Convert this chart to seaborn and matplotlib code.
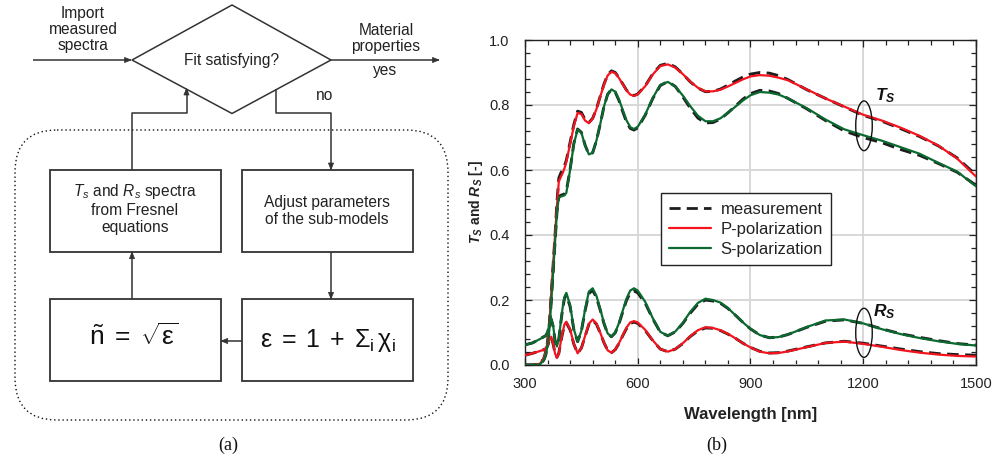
import numpy as np
import pandas as pd
import matplotlib
matplotlib.use("Agg")
import matplotlib.pyplot as plt
import seaborn as sns
from matplotlib.patches import Ellipse, Rectangle, Polygon, FancyBboxPatch
from matplotlib.lines import Line2D
from matplotlib.ticker import MultipleLocator, FormatStrFormatter

# ---------------- data ----------------
wavelength = [300, 320, 340, 350, 355, 360, 365, 370, 375, 380, 385, 390, 395, 400, 405, 410,
              420, 430, 440, 450, 460, 470, 480, 490, 500, 510, 520, 530, 540, 550, 560, 570, 580, 590, 600,
              620, 640, 660, 680, 700, 720, 740, 760, 780, 800, 820, 840, 860, 880, 900,
              925, 950, 975,
              1000, 1050, 1100, 1150, 1200, 1250, 1300, 1350, 1400, 1450, 1500]

ts_p_model = [0.0, 0.0, 0.004, 0.02, 0.04, 0.07, 0.13, 0.22, 0.31, 0.40, 0.49, 0.565, 0.578, 0.59, 0.605, 0.625,
              0.68, 0.735, 0.776, 0.772, 0.752, 0.744, 0.758, 0.787, 0.825, 0.862, 0.891, 0.902, 0.898, 0.883, 0.864, 0.845, 0.832, 0.828, 0.833,
              0.858, 0.894, 0.92, 0.925, 0.915, 0.895, 0.872, 0.853, 0.842, 0.842, 0.847, 0.857, 0.868, 0.879, 0.888,
              0.892, 0.89, 0.884,
              0.876, 0.848, 0.82, 0.795, 0.77, 0.752, 0.73, 0.705, 0.675, 0.635, 0.58]
ts_p_meas = [0.0, 0.0, 0.004, 0.02, 0.04, 0.07, 0.13, 0.22, 0.31, 0.40, 0.50, 0.575, 0.59, 0.60, 0.612, 0.63,
             0.685, 0.74, 0.781, 0.777, 0.755, 0.746, 0.759, 0.788, 0.826, 0.864, 0.893, 0.905, 0.9, 0.884, 0.865, 0.846, 0.833, 0.829, 0.834,
             0.859, 0.896, 0.922, 0.928, 0.917, 0.895, 0.871, 0.852, 0.841, 0.842, 0.849, 0.861, 0.874, 0.886, 0.895,
             0.9, 0.898, 0.89,
             0.878, 0.847, 0.82, 0.794, 0.768, 0.75, 0.727, 0.703, 0.674, 0.637, 0.585]
ts_s_model = [0.0, 0.0, 0.002, 0.015, 0.03, 0.06, 0.11, 0.2, 0.29, 0.38, 0.47, 0.515, 0.518, 0.52, 0.522, 0.53,
              0.6, 0.68, 0.725, 0.715, 0.675, 0.648, 0.653, 0.69, 0.74, 0.795, 0.833, 0.848, 0.841, 0.817, 0.785, 0.753, 0.732, 0.726, 0.733,
              0.771, 0.822, 0.862, 0.871, 0.857, 0.829, 0.796, 0.767, 0.75, 0.75, 0.759, 0.776, 0.795, 0.814, 0.83,
              0.84, 0.838, 0.832,
              0.82, 0.79, 0.755, 0.725, 0.707, 0.69, 0.67, 0.65, 0.622, 0.595, 0.55]
ts_s_meas = [0.0, 0.0, 0.002, 0.015, 0.03, 0.06, 0.11, 0.2, 0.29, 0.38, 0.47, 0.518, 0.522, 0.524, 0.526, 0.535,
             0.602, 0.682, 0.726, 0.716, 0.676, 0.648, 0.653, 0.69, 0.74, 0.795, 0.833, 0.848, 0.84, 0.814, 0.78, 0.748, 0.728, 0.723, 0.73,
             0.769, 0.82, 0.86, 0.872, 0.857, 0.825, 0.79, 0.76, 0.745, 0.746, 0.757, 0.776, 0.797, 0.818, 0.835,
             0.845, 0.843, 0.835,
             0.82, 0.788, 0.752, 0.72, 0.7, 0.684, 0.663, 0.645, 0.62, 0.593, 0.553]
rs_s_model = [0.062, 0.068, 0.08, 0.087, 0.09, 0.1, 0.125, 0.143, 0.12, 0.075, 0.057, 0.08, 0.13, 0.175, 0.21, 0.222,
              0.185, 0.11, 0.072, 0.105, 0.172, 0.226, 0.236, 0.213, 0.173, 0.13, 0.097, 0.087, 0.1, 0.129, 0.167, 0.204, 0.229, 0.236, 0.229,
              0.194, 0.144, 0.102, 0.09, 0.103, 0.13, 0.164, 0.191, 0.204, 0.2, 0.192, 0.175, 0.153, 0.131, 0.111,
              0.092, 0.084, 0.086,
              0.094, 0.117, 0.137, 0.14, 0.128, 0.11, 0.095, 0.083, 0.073, 0.065, 0.06]
rs_s_meas = [0.062, 0.068, 0.08, 0.087, 0.09, 0.1, 0.125, 0.14, 0.118, 0.075, 0.058, 0.08, 0.128, 0.172, 0.205, 0.216,
             0.18, 0.108, 0.072, 0.104, 0.168, 0.22, 0.23, 0.208, 0.17, 0.128, 0.096, 0.087, 0.099, 0.127, 0.163, 0.199, 0.222, 0.228, 0.222,
             0.19, 0.142, 0.101, 0.09, 0.102, 0.128, 0.16, 0.187, 0.2, 0.197, 0.19, 0.174, 0.153, 0.131, 0.111,
             0.092, 0.084, 0.086,
             0.094, 0.116, 0.135, 0.139, 0.128, 0.111, 0.096, 0.085, 0.075, 0.066, 0.061]
rs_p_model = [0.03, 0.036, 0.043, 0.047, 0.05, 0.058, 0.078, 0.087, 0.065, 0.035, 0.022, 0.035, 0.07, 0.1, 0.125, 0.133,
              0.11, 0.065, 0.036, 0.052, 0.09, 0.127, 0.14, 0.128, 0.1, 0.069, 0.045, 0.038, 0.047, 0.067, 0.091, 0.115, 0.131, 0.135, 0.131,
              0.108, 0.076, 0.049, 0.041, 0.049, 0.067, 0.089, 0.107, 0.116, 0.114, 0.107, 0.096, 0.082, 0.067, 0.054,
              0.041, 0.036, 0.037,
              0.042, 0.055, 0.068, 0.072, 0.065, 0.056, 0.046, 0.038, 0.032, 0.028, 0.026]
rs_p_meas = [0.03, 0.036, 0.043, 0.047, 0.05, 0.058, 0.077, 0.085, 0.064, 0.036, 0.024, 0.036, 0.07, 0.098, 0.122, 0.13,
             0.108, 0.064, 0.036, 0.052, 0.089, 0.125, 0.137, 0.126, 0.099, 0.069, 0.045, 0.038, 0.047, 0.066, 0.09, 0.112, 0.128, 0.132, 0.128,
             0.106, 0.075, 0.049, 0.041, 0.049, 0.066, 0.088, 0.105, 0.114, 0.113, 0.106, 0.095, 0.082, 0.067, 0.054,
             0.042, 0.037, 0.038,
             0.043, 0.056, 0.068, 0.073, 0.067, 0.058, 0.049, 0.041, 0.035, 0.032, 0.03]

legend_labels = ["measurement", "P-polarization", "S-polarization"]
x_ticks = [300, 600, 900, 1200, 1500]
y_ticks = [0.0, 0.2, 0.4, 0.6, 0.8, 1.0]

# ---------------- style ----------------
sns.set_style("ticks")
plt.rcParams["font.family"] = ["Liberation Sans", "DejaVu Sans"]
plt.rcParams["mathtext.fontset"] = "custom"
plt.rcParams["mathtext.rm"] = "Liberation Sans"
plt.rcParams["mathtext.it"] = "Liberation Sans:italic"
plt.rcParams["mathtext.bf"] = "Liberation Sans:bold"
plt.rcParams["mathtext.bfit"] = "Liberation Sans:italic:bold"
plt.rcParams["mathtext.sf"] = "Liberation Sans"

RED = "#f5141e"
GREEN = "#0a6a30"
DARK = "#1e1e1e"
LINEC = "#333333"
DASH = (0, (4.0, 2.2))
FS = 11.2

W, H = 995, 462
fig = plt.figure(figsize=(W / 100, H / 100), dpi=100)

# ---------------- left: flowchart (pixel coordinates) ----------------
bg = fig.add_axes([0, 0, 1, 1])
bg.set_xlim(0, W)
bg.set_ylim(H, 0)
bg.axis("off")


def poly_arrow(xs, ys, head=True):
    bg.plot(xs, ys, color=LINEC, lw=1.1, solid_capstyle="butt")
    if head:
        x1, y1 = xs[-1], ys[-1]
        x0, y0 = xs[-2], ys[-2]
        d = np.array([x1 - x0, y1 - y0], dtype=float)
        d /= np.hypot(*d)
        n = np.array([-d[1], d[0]])
        L, hw = 6.5, 2.6
        tip = np.array([x1, y1])
        base = tip - L * d
        bg.add_patch(Polygon([tip, base + hw * n, base - hw * n], closed=True,
                             fc=LINEC, ec=LINEC, lw=0.5))


# diamond
bg.add_patch(Polygon([(132, 60), (232, 5), (331, 60), (232, 113.5)], closed=True,
                     fill=False, ec=LINEC, lw=1.1))
bg.text(232, 61, "Fit satisfying?", ha="center", va="center", fontsize=FS, color="#222")

# input / output arrows
poly_arrow([33, 131], [60, 60])
bg.text(83, 29.5, "Import\nmeasured\nspectra", ha="center", va="center",
        fontsize=FS, linespacing=1.08, color="#222")
poly_arrow([331, 439], [60, 60])
bg.text(386, 38.5, "Material\nproperties", ha="center", va="center",
        fontsize=FS, linespacing=1.08, color="#222")
bg.text(385, 70.5, "yes", ha="center", va="center", fontsize=FS, color="#222")
bg.text(325, 95.5, "no", ha="center", va="center", fontsize=FS, color="#222")

# dotted rounded frame
bg.add_patch(FancyBboxPatch((15, 130), 433, 290, boxstyle="round,pad=0,rounding_size=42",
                            fill=False, ec="#111", lw=1.0, ls=(0, (1.0, 2.0))))

# boxes
for (x0, y0) in [(50, 170), (242.3, 170), (50, 299.3), (242.3, 299.3)]:
    bg.add_patch(Rectangle((x0, y0), 170.7, 81.7, fill=False, ec=LINEC, lw=1.3))

# connectors
poly_arrow([132, 132, 186.5, 186.5], [170, 113.3, 113.3, 88.5])
poly_arrow([276, 276, 331, 331], [89, 113.3, 113.3, 169.5])
poly_arrow([331, 331], [251.7, 298.8])
poly_arrow([242.3, 221.2], [341, 341])
poly_arrow([132, 132], [299.3, 252.2])

# box texts
bg.text(135, 191.5, r"$\mathit{T}_{\mathit{s}}$ and $\mathit{R}_{\mathit{s}}$ spectra",
        ha="center", va="center", fontsize=FS, color="#222")
bg.text(135, 210.5, "from Fresnel", ha="center", va="center", fontsize=FS, color="#222")
bg.text(135, 227.5, "equations", ha="center", va="center", fontsize=FS, color="#222")
bg.text(327, 203, "Adjust parameters", ha="center", va="center", fontsize=FS, color="#222")
bg.text(327, 220, "of the sub-models", ha="center", va="center", fontsize=FS, color="#222")
bg.text(134, 337, r"$\mathrm{\tilde{n}}\;=\;\sqrt{\mathrm{\varepsilon}}$",
        ha="center", va="center", fontsize=19, color="#111")
bg.text(328, 341, r"$\mathrm{\varepsilon\;=\;1\;+\;\Sigma_{i}\,\chi_{i}}$",
        ha="center", va="center", fontsize=18, color="#111")

# captions
bg.text(228, 445, "(a)", ha="center", va="center", fontsize=13,
        family=["Liberation Serif", "DejaVu Serif"], color="#111")
bg.text(717, 445, "(b)", ha="center", va="center", fontsize=13,
        family=["Liberation Serif", "DejaVu Serif"], color="#111")

# ---------------- right: spectra chart ----------------
ax = fig.add_axes([525 / W, 1 - 365 / H, (976 - 525) / W, (365 - 40) / H])
ax.set_facecolor("white")

curves = {
    "Ts P": (ts_p_meas, ts_p_model, "P-polarization"),
    "Ts S": (ts_s_meas, ts_s_model, "S-polarization"),
    "Rs P": (rs_p_meas, rs_p_model, "P-polarization"),
    "Rs S": (rs_s_meas, rs_s_model, "S-polarization"),
}
meas_rows, model_rows = [], []
for name, (meas, model, pol) in curves.items():
    meas_rows.append(pd.DataFrame({"wl": wavelength, "value": meas, "curve": name}))
    model_rows.append(pd.DataFrame({"wl": wavelength, "value": model, "curve": name, "pol": pol}))
meas_df = pd.concat(meas_rows, ignore_index=True)
model_df = pd.concat(model_rows, ignore_index=True)

sns.lineplot(data=meas_df, x="wl", y="value", units="curve", estimator=None,
             color=DARK, linestyle=DASH, linewidth=2.1, legend=False, ax=ax, zorder=3)
sns.lineplot(data=model_df, x="wl", y="value", hue="pol", units="curve", estimator=None,
             palette={"P-polarization": RED, "S-polarization": GREEN},
             linewidth=1.6, legend=False, ax=ax, zorder=4)

ax.set_xlim(300, 1500)
ax.set_ylim(0, 1.0)
ax.set_xticks(x_ticks)
ax.set_yticks(y_ticks)
ax.xaxis.set_minor_locator(MultipleLocator(60))
ax.yaxis.set_minor_locator(MultipleLocator(0.04))
ax.yaxis.set_major_formatter(FormatStrFormatter("%.1f"))
ax.grid(True, which="major", color="#d6d6d6", lw=1.3, zorder=0)
ax.set_axisbelow(True)
ax.tick_params(which="both", direction="in", top=True, right=True, colors="#222",
               labelsize=10.5, width=0.9)
ax.tick_params(which="major", length=5)
ax.tick_params(which="minor", length=3.5)
ax.tick_params(axis="x", which="major", pad=8.5)
ax.tick_params(axis="y", which="major", pad=11)
for s in ax.spines.values():
    s.set_color("#222")
    s.set_linewidth(1.0)

ax.set_xlabel("Wavelength [nm]", fontsize=12, fontweight="bold", labelpad=12, color="#222")
ax.set_ylabel(r"$\mathbfit{T}_{\mathbfit{S}}$ and $\mathbfit{R}_{\mathbfit{S}}$ [-]",
              fontsize=10, fontweight="bold", labelpad=3, color="#222")

# legend
handles = [Line2D([], [], color=DARK, ls=DASH, lw=2.0),
           Line2D([], [], color=RED, lw=1.6),
           Line2D([], [], color=GREEN, lw=1.6)]
leg = ax.legend(handles, legend_labels, loc="upper left", bbox_to_anchor=(0.301, 0.528),
                frameon=True, fancybox=False, framealpha=1, edgecolor="#222",
                fontsize=12, handlelength=2.5, handletextpad=0.6, labelspacing=0.3,
                borderpad=0.5, borderaxespad=0)
leg.get_frame().set_linewidth(1.0)
for t in leg.get_texts():
    t.set_color("#222")

# annotations
ax.add_patch(Ellipse((1202, 0.736), 44, 0.153, fill=False, ec="#111", lw=1.0, zorder=6))
ax.add_patch(Ellipse((1202, 0.099), 44, 0.151, fill=False, ec="#111", lw=1.0, zorder=6))
ax.text(1230, 0.83, r"$\mathbfit{T}_{\mathbfit{S}}$", fontsize=12.5, ha="left", va="center", color="#111")
ax.text(1226, 0.163, r"$\mathbfit{R}_{\mathbfit{S}}$", fontsize=12.5, ha="left", va="center", color="#111")

fig.savefig("out.png", dpi=100)
